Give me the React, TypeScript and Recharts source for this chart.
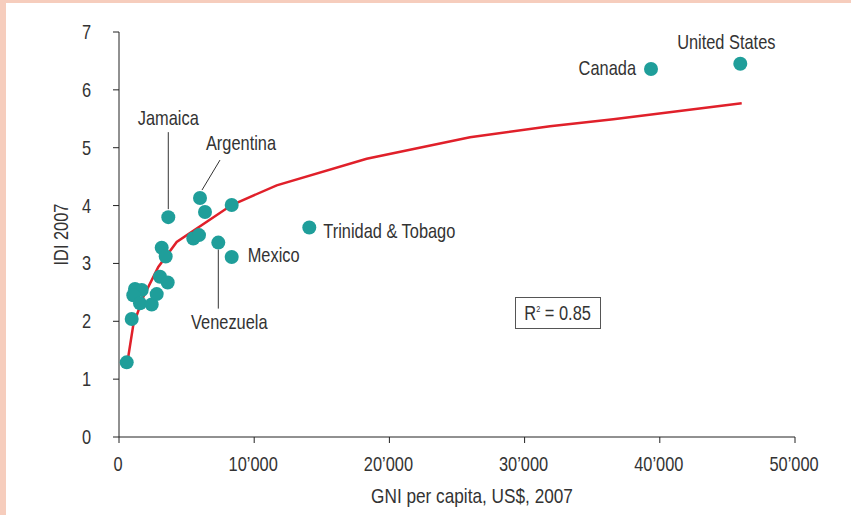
import React from "react";
import { ComposedChart, Scatter, Line, XAxis, YAxis, Label } from "recharts";

// GNI per capita (US$, 2007) and IDI 2007
const gni = [
  570, 940, 1183, 1679, 1058, 1553, 2419, 2788, 3033, 3602, 3158, 3454, 3646,
  5991, 6361, 8336, 5495, 5917, 7345, 8336, 14075, 39349, 45954,
];
const idi = [
  1.29, 2.04, 2.56, 2.54, 2.45, 2.31, 2.29, 2.47, 2.77, 2.67, 3.27, 3.12, 3.8,
  4.13, 3.89, 4.01, 3.43, 3.49, 3.36, 3.11, 3.62, 6.36, 6.45,
];
const countries = [
  "", "", "", "", "", "", "", "", "", "", "", "", "Jamaica",
  "Argentina", "", "", "", "", "Venezuela", "Mexico", "Trinidad & Tobago",
  "Canada", "United States",
];

// log trend line, vertices
const fitGni = [570, 1058, 1797, 2907, 4268, 8336, 11664, 18321, 25962, 31879, 36561, 46058];
const fitIdi = [1.215, 1.94, 2.42, 2.94, 3.37, 4.01, 4.35, 4.81, 5.18, 5.37, 5.49, 5.77];

const xTicks = [0, 10000, 20000, 30000, 40000, 50000];
const yTicks = [0, 1, 2, 3, 4, 5, 6, 7];

// no condensed Helvetica available: squeeze Liberation Sans instead
const FONT = "'Liberation Sans', Arial, sans-serif";
const SIZE = 20;
const SQUEEZE = 0.82;
const TEAL = "#1f9e9a";
const RED = "#e0202a";
const INK = "#333";

type Anchor = "start" | "middle" | "end";

function Narrow({
  x,
  y,
  anchor = "start",
  angle = 0,
  size = SIZE,
  children,
}: {
  x: number;
  y: number;
  anchor?: Anchor;
  angle?: number;
  size?: number;
  children: React.ReactNode;
}) {
  return (
    <text
      transform={`translate(${x},${y}) rotate(${angle}) scale(${SQUEEZE},1)`}
      textAnchor={anchor}
      fill={INK}
      fontSize={size}
      fontFamily={FONT}
    >
      {children}
    </text>
  );
}

// where each country name sits relative to its dot
type LabelStyle = {
  dx: number;
  dy: number;
  anchor: Anchor;
  line?: [number, number, number, number];
};
const labelStyles: Record<string, LabelStyle> = {
  "United States": { dx: -14, dy: -15, anchor: "middle" },
  Canada: { dx: -15, dy: 6, anchor: "end" },
  "Trinidad & Tobago": { dx: 14, dy: 10, anchor: "start" },
  Mexico: { dx: 16, dy: 5, anchor: "start" },
  Jamaica: { dx: 0, dy: -92, anchor: "middle", line: [0, -85, 0, -8] },
  Argentina: { dx: 41, dy: -48, anchor: "middle", line: [20, -38, 2, -8] },
  Venezuela: { dx: 11, dy: 86, anchor: "middle", line: [0, 7, 0, 66] },
};

const points = gni.map((x, i) => ({ x, y: idi[i], name: countries[i] }));
const fit = fitGni.map((x, i) => ({ x, y: fitIdi[i] }));

function Dot(props: any) {
  const { cx, cy, payload } = props;
  const st = payload.name ? labelStyles[payload.name] : null;
  return (
    <g>
      <circle cx={cx} cy={cy} r={7} fill={TEAL} />
      {st && st.line && (
        <line
          x1={cx + st.line[0]}
          y1={cy + st.line[1]}
          x2={cx + st.line[2]}
          y2={cy + st.line[3]}
          stroke={INK}
          strokeWidth={1}
        />
      )}
      {st && (
        <Narrow x={cx + st.dx} y={cy + st.dy} anchor={st.anchor}>
          {payload.name}
        </Narrow>
      )}
    </g>
  );
}

const fmt = (v: number) => (v === 0 ? "0" : `${v / 1000}\u2019000`);

function XTick(props: any) {
  return (
    <Narrow x={props.x - 1} y={props.y + 13} anchor="middle">
      {fmt(props.payload.value)}
    </Narrow>
  );
}

function YTick(props: any) {
  return (
    <Narrow x={props.x} y={props.y + 7} anchor="end">
      {props.payload.value}
    </Narrow>
  );
}

export default function App() {
  return (
    <div
      style={{
        position: "fixed",
        left: 0,
        top: 0,
        width: 851,
        height: 515,
        background: "#fff",
        boxSizing: "border-box",
        borderLeft: "6px solid #f6cdbd",
        borderTop: "3px solid #f6cdbd",
        fontFamily: FONT,
      }}
    >
      <div style={{ position: "absolute", left: -6, top: -3 }}>
        <ComposedChart
          width={851}
          height={515}
          margin={{ top: 32, right: 56, bottom: 18, left: 49 }}
        >
          <XAxis
            type="number"
            dataKey="x"
            domain={[0, 50000]}
            ticks={xTicks}
            height={60}
            tickSize={6}
            tickMargin={15}
            axisLine={{ stroke: "#222" }}
            tickLine={{ stroke: "#222" }}
            tick={XTick}
          >
            <Label
              content={(p: any) => (
                <Narrow
                  x={p.viewBox.x + p.viewBox.width / 2 + 15}
                  y={p.viewBox.y + p.viewBox.height + 6}
                  anchor="middle"
                  size={21}
                >
                  GNI per capita, US$, 2007
                </Narrow>
              )}
            />
          </XAxis>
          <YAxis
            type="number"
            dataKey="y"
            domain={[0, 7]}
            ticks={yTicks}
            width={70}
            tickSize={6}
            tickMargin={22}
            axisLine={{ stroke: "#222" }}
            tickLine={{ stroke: "#222" }}
            tick={YTick}
          >
            <Label
              content={(p: any) => (
                <Narrow
                  x={p.viewBox.x + 19}
                  y={p.viewBox.y + p.viewBox.height / 2}
                  anchor="middle"
                  angle={-90}
                >
                  IDI 2007
                </Narrow>
              )}
            />
          </YAxis>
          <Scatter data={points} dataKey="y" shape={Dot} isAnimationActive={false} />
          <Line
            data={fit}
            dataKey="y"
            type="linear"
            stroke={RED}
            strokeWidth={2.5}
            dot={false}
            activeDot={false}
            isAnimationActive={false}
          />
        </ComposedChart>
      </div>
      <div
        style={{
          position: "absolute",
          left: 515 - 6,
          top: 297 - 3,
          width: 86,
          height: 32,
          boxSizing: "border-box",
          border: "1px solid #555",
          color: INK,
          fontSize: SIZE,
          lineHeight: "30px",
          textAlign: "center",
        }}
      >
        <span style={{ display: "inline-block", transform: `scaleX(${SQUEEZE})`, whiteSpace: "nowrap" }}>
          R<sup style={{ fontSize: 9, verticalAlign: "top", lineHeight: "22px" }}>2</sup> = 0.85
        </span>
      </div>
    </div>
  );
}
